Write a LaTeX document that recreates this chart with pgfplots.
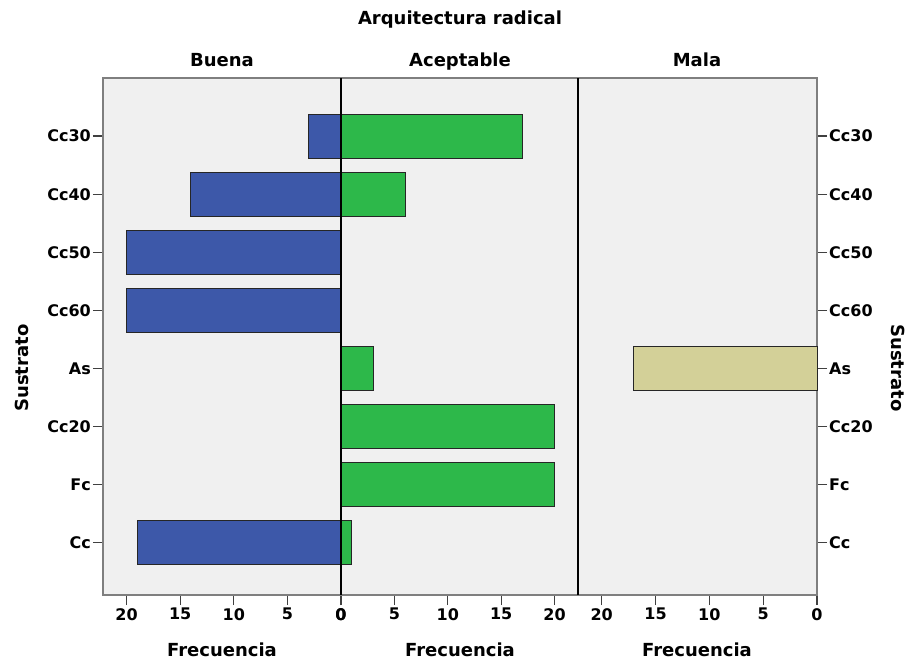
\documentclass[border=0pt]{standalone}
\usepackage{fontspec}
\setmainfont{DejaVu Sans}
\usepackage{pgfplots}
\pgfplotsset{compat=1.18}

\definecolor{cbuena}{HTML}{3D58A9}
\definecolor{cacept}{HTML}{2DB84A}
\definecolor{cmala}{HTML}{D3D098}
\definecolor{fondo}{HTML}{F0F0F0}
\definecolor{marco}{HTML}{7F7F7F}

\pgfplotsset{
  panel/.style={
    scale only axis, width=238pt, height=517pt,
    ymin=0.1, ymax=9, xmin=0, xmax=22.2,
    axis background/.style={fill=fondo},
    axis line style={draw=marco, line width=1.2pt},
    xbar, bar width=44pt, bar shift=0pt,
    xtick={0,5,10,15,20}, xtick pos=left,
    tick align=outside, major tick length=10pt,
    tick style={draw=black!75, line width=1.2pt},
    ytick={1,...,8},
    yticklabels={Cc,Fc,Cc20,As,Cc60,Cc50,Cc40,Cc30},
    ticklabel style={font=\fontsize{16}{18}\selectfont\bfseries},
    /pgf/number format/assume math mode=true,
    xticklabel style={inner sep=3pt},
    yticklabel style={inner sep=2pt},
    clip=false,
  },
  barra/.style={draw=black!85, line width=1pt},
}

\begin{document}
\begin{tikzpicture}
\path[use as bounding box] (0,0) rectangle (909pt,661pt);

% Buena
\begin{axis}[panel, name=buena, at={(103pt,66pt)}, anchor=south west,
    x dir=reverse, ytick pos=left]
  \addplot[barra, fill=cbuena] coordinates {(3,8) (14,7) (20,6) (20,5) (19,1)};
\end{axis}

% Aceptable
\begin{axis}[panel, name=acept, at={(341pt,66pt)}, anchor=south west,
    width=237pt, ymajorticks=false]
  \addplot[barra, fill=cacept] coordinates {(17,8) (6,7) (3,4) (20,3) (20,2) (1,1)};
\end{axis}

% Mala
\begin{axis}[panel, name=mala, at={(578pt,66pt)}, anchor=south west,
    width=239pt, x dir=reverse, ytick pos=right, yticklabel pos=right]
  \addplot[barra, fill=cmala] coordinates {(17,4)};
\end{axis}

% separadores de paneles
\draw[black, line width=1.4pt] (acept.south west) -- (acept.north west);
\draw[black, line width=1.4pt] (mala.south west) -- (mala.north west);

\begin{scope}[every node/.style={font=\fontsize{18}{20}\selectfont\bfseries, anchor=base}]
  \node at (460pt,636pt) {Arquitectura radical};
  \node at (222pt,594pt) {Buena};
  \node at (460pt,594pt) {Aceptable};
  \node at (697pt,594pt) {Mala};
  \node at (222pt,5pt) {Frecuencia};
  \node at (460pt,5pt) {Frecuencia};
  \node at (697pt,5pt) {Frecuencia};
\end{scope}
\node[font=\fontsize{18}{20}\selectfont\bfseries, rotate=90] at (22pt,293pt) {Sustrato};
\node[font=\fontsize{18}{20}\selectfont\bfseries, rotate=-90] at (898pt,293pt) {Sustrato};
\end{tikzpicture}
\end{document}
